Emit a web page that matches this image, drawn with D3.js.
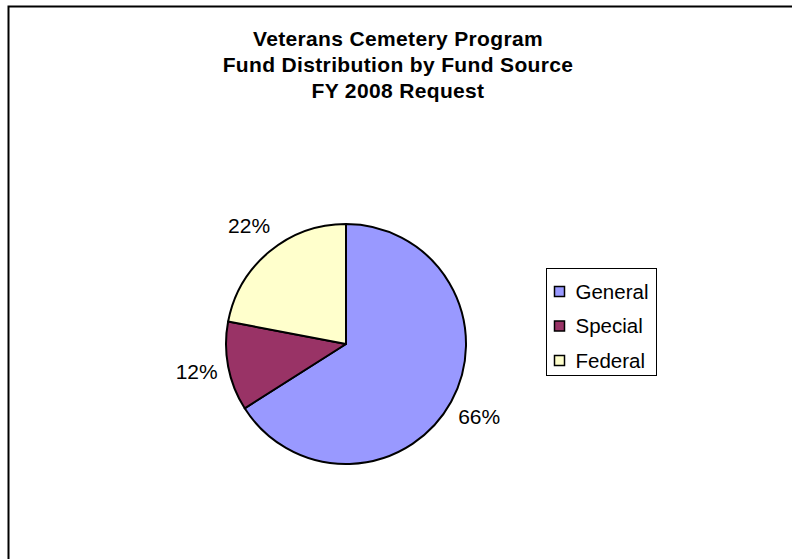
<!DOCTYPE html>
<html>
<head>
<meta charset="utf-8">
<script src="https://cdn.jsdelivr.net/npm/d3@7"></script>
<style>
  html, body { margin: 0; padding: 0; background: #fff; }
  svg { display: block; }
  text { font-family: "Liberation Sans", Arial, sans-serif; fill: #000; }
</style>
</head>
<body>
<svg id="chart" width="792" height="559"></svg>
<script>
// Fund sources and their share of the FY 2008 request (percent)
const sources = ["General", "Special", "Federal"];
const shares = [66, 12, 22];
const colors = ["#9999ff", "#993366", "#ffffcc"];
const titleLines = ["Veterans Cemetery Program", "Fund Distribution by Fund Source", "FY 2008 Request"];

const svg = d3.select("#chart");

// chart area frame (runs off the right and bottom edges)
svg.append("rect")
  .attr("x", 8.5).attr("y", 6.5)
  .attr("width", 800).attr("height", 600)
  .attr("fill", "#fff")
  .attr("stroke", "#000").attr("stroke-width", 2);

// title
svg.append("g").selectAll("text")
  .data(titleLines)
  .join("text")
  .attr("x", 398)
  .attr("y", (d, i) => 46 + i * 26)
  .attr("text-anchor", "middle")
  .attr("font-size", 21)
  .attr("font-weight", "bold")
  .attr("letter-spacing", 0.35)
  .text(d => d);

// pie, starting at twelve o'clock and running clockwise
const cx = 346, cy = 344, r = 120;
const data = sources.map((s, i) => ({ source: s, value: shares[i], color: colors[i] }));
const pie = d3.pie().value(d => d.value).sort(null);
const arcs = pie(data);
const arc = d3.arc().innerRadius(0).outerRadius(r);

const g = svg.append("g").attr("transform", `translate(${cx},${cy})`);
g.selectAll("path")
  .data(arcs)
  .join("path")
  .attr("d", arc)
  .attr("fill", d => d.data.color)
  .attr("stroke", "#000")
  .attr("stroke-width", 2)
  .attr("stroke-linejoin", "round");

// percentage labels outside each slice
const labelArc = d3.arc().innerRadius(r + 32).outerRadius(r + 32);
g.selectAll("text.pct")
  .data(arcs)
  .join("text")
  .attr("class", "pct")
  .attr("transform", d => `translate(${labelArc.centroid(d)})`)
  .attr("text-anchor", "middle")
  .attr("dy", "0.3em")
  .attr("font-size", 21)
  .text(d => d.data.value + "%");

// legend
const legend = svg.append("g").attr("transform", "translate(546.5,268.5)");
legend.append("rect")
  .attr("width", 110).attr("height", 107)
  .attr("fill", "#fff").attr("stroke", "#000").attr("stroke-width", 1);
const items = legend.selectAll("g.item")
  .data(data)
  .join("g")
  .attr("class", "item")
  .attr("transform", (d, i) => `translate(8,${18 + i * 34.5})`);
items.append("rect")
  .attr("width", 10).attr("height", 10)
  .attr("fill", d => d.color)
  .attr("stroke", "#000").attr("stroke-width", 1.5);
items.append("text")
  .attr("x", 21).attr("y", 12)
  .attr("font-size", 20.5)
  .text(d => d.source);
</script>
</body>
</html>
